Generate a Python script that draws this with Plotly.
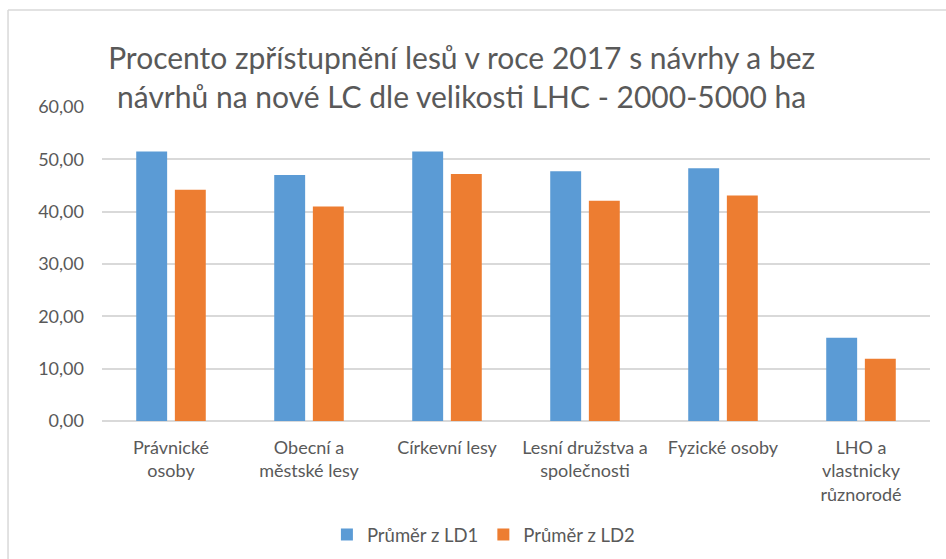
import plotly.graph_objects as go

categories = ["Právnické<br>osoby", "Obecní a<br>městské lesy", "Církevní lesy",
              "Lesní družstva a<br>společnosti", "Fyzické osoby", "LHO a<br>vlastnicky<br>různorodé"]
ld1 = [51.5, 47.0, 51.5, 47.7, 48.3, 15.9]
ld2 = [44.2, 41.0, 47.2, 42.1, 43.1, 11.9]
series_names = ["Průměr z LD1", "Průměr z LD2"]
tick_vals = [0, 10, 20, 30, 40, 50, 60]
tick_text = ["0,00", "10,00", "20,00", "30,00", "40,00", "50,00", "60,00"]

FONT = "Lato, 'Open Sans', sans-serif"
GREY = "#595959"
fig = go.Figure()
fig.add_trace(go.Bar(x=categories, y=ld1, name=series_names[0], marker_color="#5B9BD5",
                     marker_line_width=0))
fig.add_trace(go.Bar(x=categories, y=ld2, name=series_names[1], marker_color="#ED7D31",
                     marker_line_width=0))

fig.update_layout(
    width=946, height=559,
    paper_bgcolor="white", plot_bgcolor="white",
    margin=dict(l=102, r=16, t=107, b=138, autoexpand=False),
    barmode="group", bargap=0.44, bargroupgap=0.2,
    title=dict(text="Procento zpřístupnění lesů v roce 2017 s návrhy a bez<br>návrhů na nové LC dle velikosti LHC - 2000-5000 ha",
               x=0.488, xanchor="center", xref="container", y=0.877, yanchor="middle", yref="container",
               font=dict(family=FONT, size=30, color=GREY)),
    font=dict(family=FONT, color=GREY, size=18),
    legend=dict(orientation="h", x=0.511, xanchor="center", xref="container",
                y=0.043, yanchor="middle", yref="container",
                font=dict(size=18.5, color=GREY), itemwidth=30, traceorder="normal"),
    xaxis=dict(showgrid=False, ticks="", showline=False, automargin=False,
               tickfont=dict(size=18, color=GREY), ticklabelstandoff=14),
    yaxis=dict(range=[0, 60], tickvals=tick_vals, ticktext=tick_text, showgrid=True,
               gridcolor="#D9D9D9", gridwidth=1.5, zeroline=True, zerolinecolor="#D9D9D9",
               zerolinewidth=1.5, ticks="", automargin=False,
               tickfont=dict(size=18, color=GREY), ticklabelstandoff=17),
    shapes=[
        dict(type="line", xref="paper", yref="paper", x0=-0.1135, x1=-0.1135, y0=-0.6, y1=1.309,
             line=dict(color="#D9D9D9", width=1.5), layer="below"),
        dict(type="line", xref="paper", yref="paper", x0=-0.1135, x1=1.05, y0=1.309, y1=1.309,
             line=dict(color="#D9D9D9", width=1.5), layer="below"),
    ],
)
fig.write_html("out.html", config={"displayModeBar": False},
               post_script="document.body.style.margin='0';document.body.style.overflow='hidden';")
